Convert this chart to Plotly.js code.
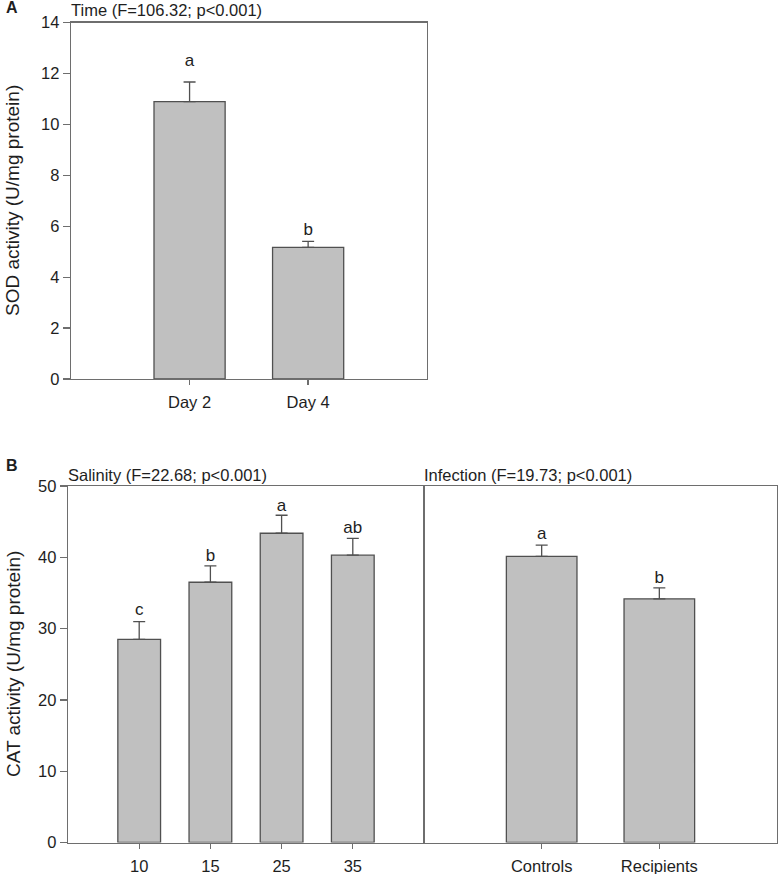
<!DOCTYPE html>
<html>
<head>
<meta charset="utf-8">
<script src="https://cdn.plot.ly/plotly-3.0.1.min.js"></script>
<style>html,body{margin:0;padding:0;background:#fff;}#chart{width:781px;height:874px;}</style>
</head>
<body>
<div id="chart"></div>
<script>
// ---- Data ----
const timeCats = ['Day 2', 'Day 4'];
const sodMean = [10.9, 5.17];
const sodErr = [0.77, 0.24];
const sodLetters = ['a', 'b'];
const sodLetterY = [12.47, 5.83];

const salinityCats = ['10', '15', '25', '35'];
const catSalMean = [28.5, 36.5, 43.37, 40.3];
const catSalErr = [2.47, 2.3, 2.53, 2.36];
const catSalLetters = ['c', 'b', 'a', 'ab'];
const catSalLetterY = [32.47, 40.14, 47.1, 43.97];

const infectionCats = ['Controls', 'Recipients'];
const catInfMean = [40.14, 34.17];
const catInfErr = [1.56, 1.55];
const catInfLetters = ['a', 'b'];
const catInfLetterY = [43.13, 37.05];

// ---- Style ----
const FONT = 'Liberation Sans, Arial, Helvetica, sans-serif';
const TXT = '#1e1e1e';
const AX = '#6e6e6e';
const EDGE = '#505050';
const W = 781, H = 874;

function barTrace(x, y, err, xa, ya) {
  return {
    type: 'bar', x: x, y: y, xaxis: xa, yaxis: ya,
    marker: {color: '#c0c0c0', line: {color: EDGE, width: 1.3}},
    error_y: {type: 'data', array: err, arrayminus: x.map(() => 0), symmetric: false,
              color: EDGE, thickness: 1.3, width: 6},
    hoverinfo: 'skip', showlegend: false
  };
}
function letterTrace(x, y, t, xa, ya) {
  return {
    type: 'scatter', mode: 'text', x: x, y: y, text: t, xaxis: xa, yaxis: ya,
    textposition: 'middle center', textfont: {family: FONT, size: 17, color: TXT},
    hoverinfo: 'skip', showlegend: false, cliponaxis: false
  };
}

const traces = [
  barTrace(timeCats, sodMean, sodErr, 'x', 'y'),
  letterTrace(timeCats, sodLetterY, sodLetters, 'x', 'y'),
  barTrace(salinityCats, catSalMean, catSalErr, 'x2', 'y2'),
  letterTrace(salinityCats, catSalLetterY, catSalLetters, 'x2', 'y2'),
  barTrace(infectionCats, catInfMean, catInfErr, 'x3', 'y3'),
  letterTrace(infectionCats, catInfLetterY, catInfLetters, 'x3', 'y3')
];

function px(v) { return v / W; }
function py(v) { return 1 - v / H; }

const baseX = {
  type: 'category', showline: true, linecolor: AX, linewidth: 1.3, mirror: true,
  ticks: 'outside', ticklen: 5, tickcolor: AX, tickwidth: 1.3, ticklabelstandoff: 3,
  showgrid: false, zeroline: false, fixedrange: true,
  tickfont: {family: FONT, size: 16.5, color: TXT}
};
const baseY = {
  showline: true, linecolor: AX, linewidth: 1.3, mirror: true,
  ticks: 'outside', ticklen: 7, tickcolor: AX, tickwidth: 1.3,
  showgrid: false, zeroline: false, fixedrange: true,
  tickfont: {family: FONT, size: 16.5, color: TXT}
};

const layout = {
  width: W, height: H,
  margin: {l: 0, r: 0, t: 0, b: 0},
  paper_bgcolor: '#fff', plot_bgcolor: '#fff',
  bargap: 0.4,
  showlegend: false,
  font: {family: FONT, color: TXT},
  xaxis: Object.assign({}, baseX, {domain: [px(71), px(426.7)], range: [-1, 2], anchor: 'y'}),
  yaxis: Object.assign({}, baseY, {domain: [py(379), py(22.7)], range: [0, 14], dtick: 2, anchor: 'x'}),
  xaxis2: Object.assign({}, baseX, {domain: [px(68), px(424)], range: [-1, 4], anchor: 'y2'}),
  yaxis2: Object.assign({}, baseY, {domain: [py(842.5), py(486)], range: [0, 50], dtick: 10, anchor: 'x2'}),
  xaxis3: Object.assign({}, baseX, {domain: [px(424), px(777)], range: [-1, 2], anchor: 'y3'}),
  yaxis3: Object.assign({}, baseY, {domain: [py(842.5), py(486)], range: [0, 50], anchor: 'x3',
                                     ticks: '', showticklabels: false, matches: 'y2'}),
  annotations: [
    {text: '<b>A</b>', xref: 'paper', yref: 'paper', x: px(4), y: py(7), xanchor: 'left', yanchor: 'middle',
     showarrow: false, font: {family: FONT, size: 16, color: TXT}},
    {text: '<b>B</b>', xref: 'paper', yref: 'paper', x: px(4), y: py(465), xanchor: 'left', yanchor: 'middle',
     showarrow: false, font: {family: FONT, size: 16, color: TXT}},
    {text: 'Time (F=106.32; p<0.001)', xref: 'paper', yref: 'paper', x: px(69), y: py(10), xanchor: 'left', yanchor: 'middle',
     showarrow: false, font: {family: FONT, size: 16.5, color: TXT}},
    {text: 'Salinity (F=22.68; p<0.001)', xref: 'paper', yref: 'paper', x: px(66), y: py(475), xanchor: 'left', yanchor: 'middle',
     showarrow: false, font: {family: FONT, size: 16.5, color: TXT}},
    {text: 'Infection (F=19.73; p<0.001)', xref: 'paper', yref: 'paper', x: px(422), y: py(475), xanchor: 'left', yanchor: 'middle',
     showarrow: false, font: {family: FONT, size: 16.5, color: TXT}},
    {text: 'SOD activity (U/mg protein)', xref: 'paper', yref: 'paper', x: px(13), y: py(201), xanchor: 'center', yanchor: 'middle',
     textangle: -90, showarrow: false, font: {family: FONT, size: 19, color: TXT}},
    {text: 'CAT activity (U/mg protein)', xref: 'paper', yref: 'paper', x: px(13), y: py(664), xanchor: 'center', yanchor: 'middle',
     textangle: -90, showarrow: false, font: {family: FONT, size: 19, color: TXT}}
  ]
};

Plotly.newPlot('chart', traces, layout, {staticPlot: true, displayModeBar: false});
</script>
</body>
</html>
